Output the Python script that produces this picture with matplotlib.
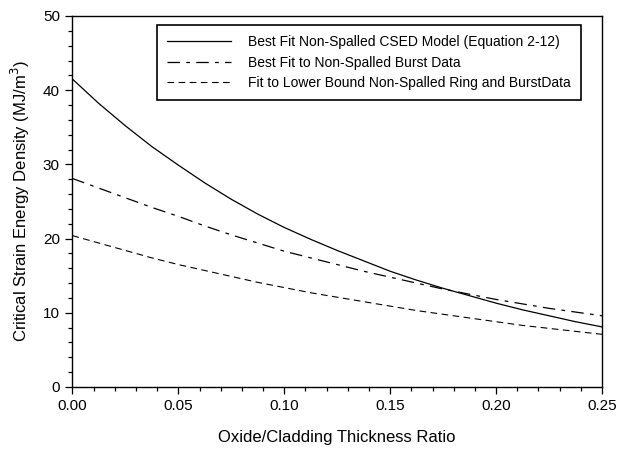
import matplotlib
matplotlib.use("Agg")
import matplotlib.pyplot as plt
from matplotlib.ticker import MultipleLocator, FormatStrFormatter

plt.rcParams['font.family'] = ['Liberation Sans', 'DejaVu Sans']

ratio = [0.0, 0.0125, 0.025, 0.0375, 0.05, 0.0625, 0.075, 0.0875, 0.10, 0.1125,
         0.125, 0.1375, 0.15, 0.1625, 0.175, 0.1875, 0.20, 0.2125, 0.225, 0.2375, 0.25]
csed_model = [41.5, 38.2, 35.2, 32.4, 29.9, 27.5, 25.3, 23.3, 21.5, 19.9,
              18.4, 17.0, 15.6, 14.4, 13.3, 12.3, 11.3, 10.4, 9.6, 8.8, 8.1]
burst_fit = [28.1, 26.8, 25.5, 24.2, 23.0, 21.7, 20.5, 19.4, 18.3, 17.4,
             16.5, 15.6, 14.8, 14.0, 13.2, 12.5, 11.8, 11.2, 10.6, 10.1, 9.6]
lower_bound = [20.4, 19.4, 18.4, 17.4, 16.5, 15.7, 14.9, 14.1, 13.4, 12.7,
               12.1, 11.5, 10.9, 10.3, 9.8, 9.3, 8.8, 8.3, 7.9, 7.5, 7.1]

labels = ["Best Fit Non-Spalled CSED Model (Equation 2-12)",
          "Best Fit to Non-Spalled Burst Data",
          "Fit to Lower Bound Non-Spalled Ring and BurstData"]

fig = plt.figure(figsize=(6.19, 4.53), dpi=100)
ax = fig.add_axes([0.117, 0.1457, 0.8555, 0.819])

ax.plot(ratio, csed_model, color='black', lw=0.9, ls='-', label=labels[0])
ax.plot(ratio, burst_fit, color='black', lw=0.9, ls=(0, (10, 5, 3, 5)), label=labels[1])
ax.plot(ratio, lower_bound, color='black', lw=0.8, ls=(0, (6, 4)), label=labels[2])

ax.set_xlim(0, 0.25)
ax.set_ylim(0, 50)
ax.xaxis.set_major_locator(MultipleLocator(0.05))
ax.xaxis.set_minor_locator(MultipleLocator(0.01))
ax.yaxis.set_major_locator(MultipleLocator(10))
ax.yaxis.set_minor_locator(MultipleLocator(2))
ax.xaxis.set_major_formatter(FormatStrFormatter('%.2f'))
ax.tick_params(which='both', direction='out', top=False, right=False, labelsize=11, width=0.9)
ax.tick_params(which='major', length=5, pad=4)
ax.tick_params(which='minor', length=3)
for s in ax.spines.values():
    s.set_linewidth(1.0)

ax.set_xlabel("Oxide/Cladding Thickness Ratio", fontsize=12, labelpad=12)
ax.set_ylabel("Critical Strain Energy Density (MJ/m$^3$)", fontsize=12, labelpad=8)

leg = ax.legend(loc='upper left', bbox_to_anchor=(0.159, 0.976), fontsize=10,
                frameon=True, fancybox=False, edgecolor='black', framealpha=1,
                handlelength=4.6, handletextpad=1.2, borderpad=0.75, labelspacing=0.45,
                borderaxespad=0)
leg.get_frame().set_linewidth(1.2)

fig.savefig("out.png", dpi=100)
